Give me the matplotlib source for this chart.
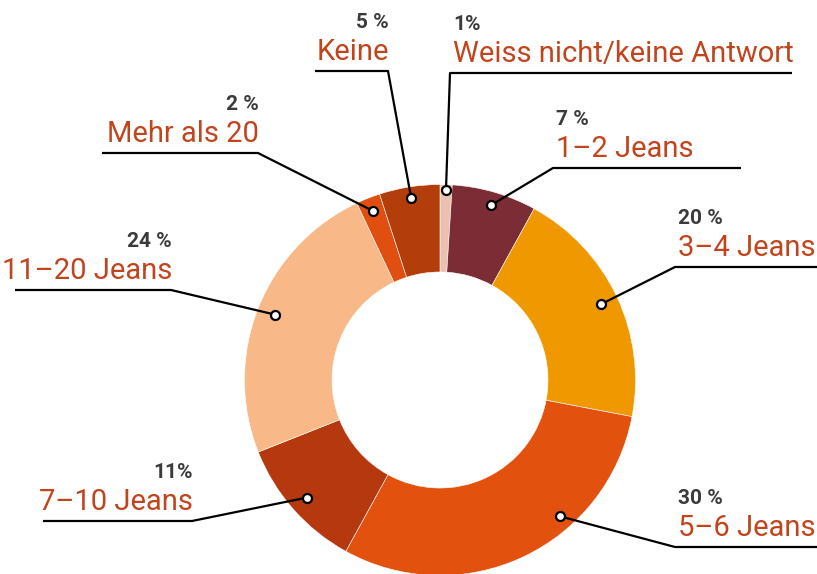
import numpy as np
import matplotlib.pyplot as plt

# Data
labels = ['Weiss nicht/keine Antwort', '1–2 Jeans', '3–4 Jeans', '5–6 Jeans',
          '7–10 Jeans', '11–20 Jeans', 'Mehr als 20', 'Keine']
values = [1, 7, 20, 30, 11, 24, 2, 5]
pct_labels = ['1%', '7 %', '20 %', '30 %', '11%', '24 %', '2 %', '5 %']
colors = ['#ecc0b0', '#7b2c34', '#f09800', '#e2520e',
          '#b5380f', '#f8b887', '#e14f10', '#b43e0b']

# Layout (pixel coords, y from top): elbow point, line end
elbows = [(450, 73), (553, 168), (675, 267), (675, 547),
          (192, 521), (171, 290), (258, 153), (388, 71)]
line_ends = [792, 741, 817, 817, 43, 15, 102, 315]
# where along each slice the dot sits (0..1)
dot_pos = [0.5, 0.5, 0.5, 0.35, 0.5, 0.5, 0.5, 0.5]
dot_r = [0.97, 0.93, 0.91, 0.93, 0.91, 0.91, 0.93, 0.94]

W, H = 817, 574
cx, cy, R, r_in = 440, 380, 195.5, 108

fig = plt.figure(figsize=(W / 100, H / 100), dpi=100)
ax = fig.add_axes([0, 0, 1, 1])

ax.pie(values, colors=colors, startangle=90, counterclock=False,
       radius=R, center=(cx, H - cy),
       wedgeprops=dict(width=R - r_in, edgecolor='white', linewidth=0.4))

label_color = '#c1441c'
pct_color = '#3b3b3b'
font = 'Roboto'

cum = np.cumsum([0] + values[:-1])
for i, lab in enumerate(labels):
    frac = (cum[i] + dot_pos[i] * values[i]) / sum(values)
    theta = np.deg2rad(90 - 360 * frac)
    dx = cx + dot_r[i] * R * np.cos(theta)
    dy = (H - cy) + dot_r[i] * R * np.sin(theta)
    ex, ey = elbows[i]
    ey = H - ey
    lx = line_ends[i]
    ax.plot([dx, ex, lx], [dy, ey, ey], color='black', lw=1.6,
            solid_capstyle='butt', zorder=3)
    ax.plot(dx, dy, 'o', ms=6.5, mfc='white', mec='black', mew=1.6, zorder=4)
    if lx > ex:
        tx, ha = ex + 3, 'left'
    else:
        tx, ha = ex + 1, 'right'
    ax.text(tx, ey + 11, lab, ha=ha, va='baseline', fontsize=21,
            color=label_color, family=font)
    ax.text(tx, ey + 43, pct_labels[i], ha=ha, va='baseline', fontsize=15,
            fontweight='bold', color=pct_color, family=font)

ax.set_xlim(0, W)
ax.set_ylim(0, H)
ax.set_aspect('equal')
ax.axis('off')

fig.savefig('out.png', dpi=100)
